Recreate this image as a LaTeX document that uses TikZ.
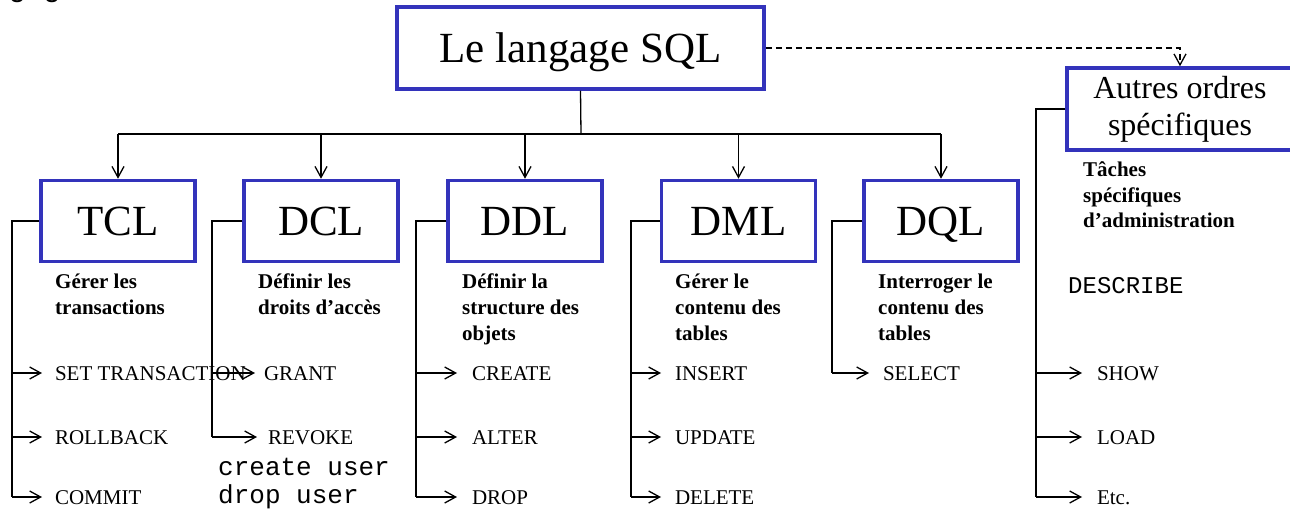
\documentclass[tikz,border=0pt]{standalone}
\usepackage{fontspec}
\setmainfont{Liberation Serif}
\newfontfamily\codefont{Liberation Mono}
\newfontfamily\slidefont{Liberation Sans}
\usetikzlibrary{arrows.meta}
\definecolor{boxblue}{RGB}{51,51,187}
\begin{document}
\begin{tikzpicture}[x=1pt,y=-1pt,
  bluebox/.style={draw=boxblue,line width=3.5pt,rectangle,inner sep=0pt},
  langbox/.style={bluebox,minimum width=154pt,minimum height=81pt,
    text height=29pt,text depth=0pt,font=\fontsize{43}{50}\selectfont},
  link/.style={line width=1.3pt},
  arr/.style={link,-{Straight Barb[length=11pt,width=12pt]}},
  item/.style={anchor=west,inner xsep=13pt,inner ysep=0pt,outer sep=0pt,
    text height=14pt,text depth=0pt,font=\fontsize{21}{25}\selectfont},
  task/.style={anchor=base west,inner sep=0pt,font=\bfseries\fontsize{21}{26}\selectfont},
  code/.style={anchor=base west,inner sep=0pt},
]
% page
\useasboundingbox (0,0) rectangle (1290,513);
\fill[white] (0,0) rectangle (1290,513);

% text line cut by the top edge
\node[anchor=base west,inner sep=0pt,font=\slidefont\fontsize{30}{36}\selectfont]
  (frag) at (9,-3) {g\hspace*{18pt}g\hspace*{67pt},};

% root and the five families
\node[bluebox,minimum width=367pt,minimum height=82pt,text height=29pt,text depth=0pt,
  font=\fontsize{43}{50}\selectfont] (sql) at (580.5,48) {Le langage SQL};
\node[langbox] (tcl) at (118,221) {TCL};
\node[langbox] (dcl) at (321,221) {DCL};
\node[langbox] (ddl) at (525,221) {DDL};
\node[langbox] (dml) at (738.5,221) {DML};
\node[langbox] (dql) at (941,221) {DQL};
\node[bluebox,minimum width=226pt,minimum height=82pt,align=center,
  font=\fontsize{32}{37}\selectfont] (autres) at (1180,109) {Autres ordres\\spécifiques};

% tree from the root
\coordinate (bus) at (581,134);
\draw[link] (sql.south) -- (bus);
\draw[link] (tcl.north |- bus) -- (dql.north |- bus);
\foreach \n in {tcl,dcl,ddl,dml,dql}
  \draw[arr] (\n.north |- bus) -- (\n.north);
\draw[link,dash pattern=on 6pt off 4pt,-{Straight Barb[length=11pt,width=12pt]}]
  (sql.east) -| (autres.north);

% descriptions
\node[task] (ttcl) at (55,288) {\vtop{\hbox{Gérer les}\hbox{transactions}}};
\node[task] (tdcl) at (258,288) {\vtop{\hbox{Définir les}\hbox{droits d’accès}}};
\node[task] (tddl) at (462,288) {\vtop{\hbox{Définir la}\hbox{structure des}\hbox{objets}}};
\node[task] (tdml) at (675,288) {\vtop{\hbox{Gérer le}\hbox{contenu des}\hbox{tables}}};
\node[task] (tdql) at (878,288) {\vtop{\hbox{Interroger le}\hbox{contenu des}\hbox{tables}}};
\node[task,font=\bfseries\fontsize{21}{25.5}\selectfont] (tautres) at (1083,177)
  {\vtop{\hbox{Tâches}\hbox{spécifiques}\hbox{d’administration}}};

% rails
\coordinate (vtcl) at (12,0);
\coordinate (vdcl) at (212,0);
\coordinate (vddl) at (416,0);
\coordinate (vdml) at (631,0);
\coordinate (vdql) at (832,0);
\coordinate (vautres) at (1036,0);
\coordinate (r1) at (0,373);
\coordinate (r2) at (0,437);
\coordinate (r3) at (0,497);

% TCL
\node[item] (settr) at (42,373) {SET TRANSACTION};
\node[item] (rollback) at (42,437) {ROLLBACK};
\node[item] (commit) at (42,497) {COMMIT};
\draw[link] (tcl.west) -- (tcl.west -| vtcl) -- (vtcl |- r3);
\draw[arr] (vtcl |- r1) -- (settr.west);
\draw[arr] (vtcl |- r2) -- (rollback.west);
\draw[arr] (vtcl |- r3) -- (commit.west);

% DCL
\node[item,inner xsep=9pt] (grant) at (255,373) {GRANT};
\node[item,inner xsep=11pt] (revoke) at (257,437) {REVOKE};
\draw[link] (dcl.west) -- (dcl.west -| vdcl) -- (vdcl |- r2);
\draw[arr] (vdcl |- r1) -- (grant.west);
\draw[arr] (vdcl |- r2) -- (revoke.west);
\node[code,font=\codefont\fontsize{26}{28}\selectfont] (users) at (218,475)
  {\vtop{\hbox{create user}\hbox{drop user}}};

% DDL
\node[item,inner xsep=15pt] (create) at (457,373) {CREATE};
\node[item,inner xsep=15pt] (alter) at (457,437) {ALTER};
\node[item,inner xsep=15pt] (drop) at (457,497) {DROP};
\draw[link] (ddl.west) -- (ddl.west -| vddl) -- (vddl |- r3);
\draw[arr] (vddl |- r1) -- (create.west);
\draw[arr] (vddl |- r2) -- (alter.west);
\draw[arr] (vddl |- r3) -- (drop.west);

% DML
\node[item,inner xsep=14pt] (insert) at (661,373) {INSERT};
\node[item,inner xsep=14pt] (update) at (661,437) {UPDATE};
\node[item,inner xsep=14pt] (delete) at (661,497) {DELETE};
\draw[link] (dml.west) -- (dml.west -| vdml) -- (vdml |- r3);
\draw[arr] (vdml |- r1) -- (insert.west);
\draw[arr] (vdml |- r2) -- (update.west);
\draw[arr] (vdml |- r3) -- (delete.west);

% DQL
\node[item,inner xsep=14pt] (select) at (869,373) {SELECT};
\draw[link] (dql.west) -- (dql.west -| vdql) -- (vdql |- r1);
\draw[arr] (vdql |- r1) -- (select.west);

% other commands
\node[code,font=\codefont\fontsize{24}{28}\selectfont] (describe) at (1068,293) {DESCRIBE};
\node[item,inner xsep=15pt] (show) at (1082,373) {SHOW};
\node[item,inner xsep=15pt] (load) at (1082,437) {LOAD};
\node[item,inner xsep=15pt] (etc) at (1082,497) {Etc.};
\draw[link] (autres.west) -- (autres.west -| vautres) -- (vautres |- r3);
\draw[arr] (vautres |- r1) -- (show.west);
\draw[arr] (vautres |- r2) -- (load.west);
\draw[arr] (vautres |- r3) -- (etc.west);
\end{tikzpicture}
\end{document}
